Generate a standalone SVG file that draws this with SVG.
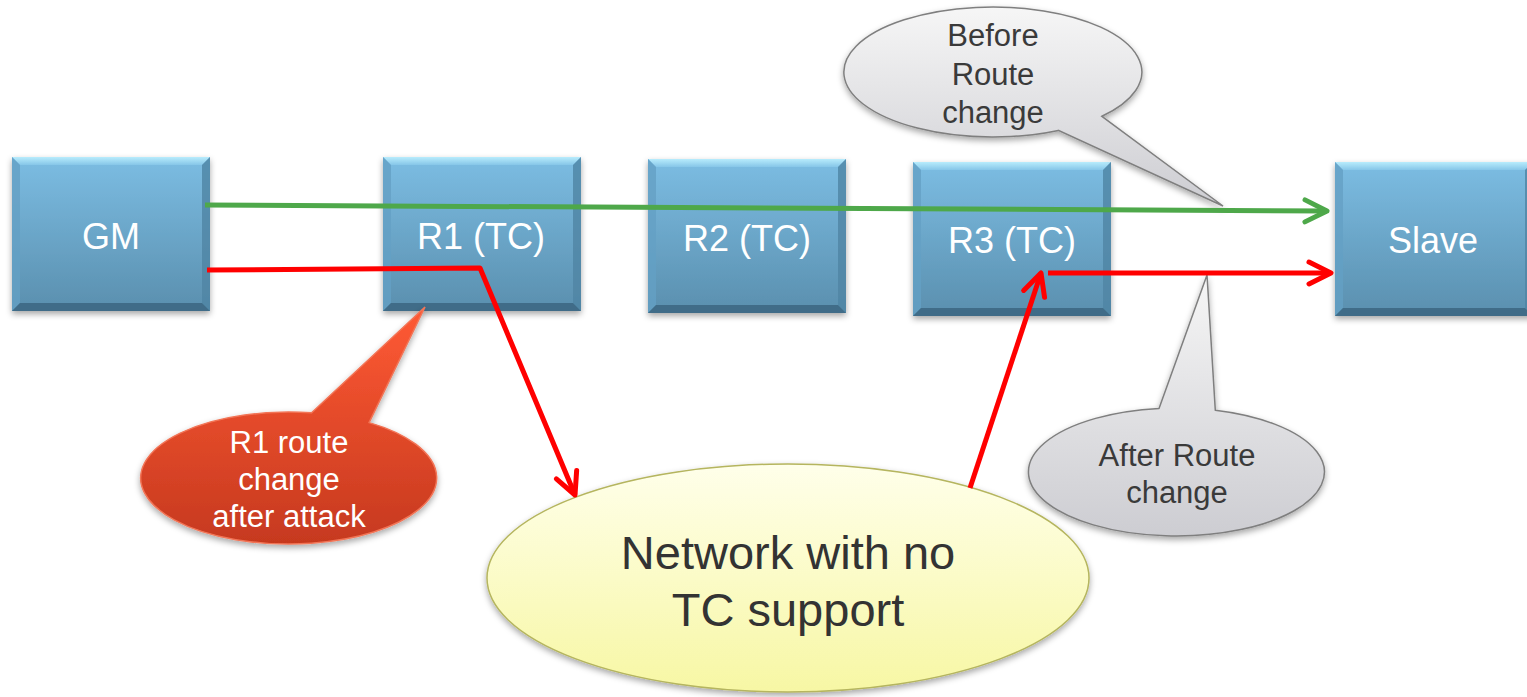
<svg xmlns="http://www.w3.org/2000/svg" xmlns:xlink="http://www.w3.org/1999/xlink" width="1527" height="697" viewBox="0 0 1527 697">
<style>
.box-text{font-family:"Liberation Sans",Arial,sans-serif;font-size:36px;fill:#ffffff;text-anchor:middle}
.callout-text{font-family:"Liberation Sans",Arial,sans-serif;font-size:31px;fill:#3a3a3a;text-anchor:middle}
.red-text{font-family:"Liberation Sans",Arial,sans-serif;font-size:31px;fill:#ffffff;text-anchor:middle}
.net-text{font-family:"Liberation Sans",Arial,sans-serif;font-size:47px;fill:#333333;text-anchor:middle}
.green{fill:none;stroke:#4ea84a;stroke-width:5;stroke-linejoin:round}
.red{fill:none;stroke:#ff0000;stroke-width:5;stroke-linejoin:round}
</style>
<defs>
<linearGradient id="gBox" x1="0" y1="0" x2="0" y2="1">
<stop offset="0" stop-color="#7cbde3"/><stop offset="1" stop-color="#5a8fae"/>
</linearGradient>
<linearGradient id="gTop" x1="0" y1="0" x2="0" y2="1">
<stop offset="0" stop-color="#b8ecfc"/><stop offset="1" stop-color="#86c6e8"/>
</linearGradient>
<linearGradient id="gGrey" x1="0" y1="0" x2="0" y2="1">
<stop offset="0" stop-color="#f6f6f6"/><stop offset="1" stop-color="#cdcdd2"/>
</linearGradient>
<linearGradient id="gRed" x1="0" y1="0" x2="0" y2="1">
<stop offset="0" stop-color="#ff5a34"/><stop offset="1" stop-color="#c6391f"/>
</linearGradient>
<linearGradient id="gYellow" x1="0" y1="0" x2="0" y2="1">
<stop offset="0" stop-color="#ffffea"/><stop offset="1" stop-color="#f7f7a4"/>
</linearGradient>
<filter id="shadow" x="-10%" y="-10%" width="120%" height="130%">
<feDropShadow dx="0" dy="3" stdDeviation="3" flood-color="#000" flood-opacity="0.35"/>
</filter>
<g id="box">
<rect x="0" y="0" width="198" height="154" fill="url(#gBox)"/>
<polygon points="0,0 198,0 190,8 8,8" fill="url(#gTop)"/>
<polygon points="0,0 8,8 8,146 0,154" fill="#64a0c4" opacity="0.8"/>
<polygon points="198,0 198,154 190,146 190,8" fill="#4f84a4" opacity="0.8"/>
<polygon points="0,154 8,146 190,146 198,154" fill="#3f6c88"/>
</g>
<marker id="ah-green" viewBox="-27 -15 31 30" refX="0" refY="0" markerWidth="31" markerHeight="30" markerUnits="userSpaceOnUse" orient="auto">
<path d="M-22,-11 L0,0 L-22,11" fill="none" stroke="#4ea84a" stroke-width="5" stroke-linecap="round" stroke-linejoin="round"/>
</marker>
<marker id="ah-red" viewBox="-27 -15 31 30" refX="0" refY="0" markerWidth="31" markerHeight="30" markerUnits="userSpaceOnUse" orient="auto">
<path d="M-22,-11 L0,0 L-22,11" fill="none" stroke="#ff0000" stroke-width="5" stroke-linecap="round" stroke-linejoin="round"/>
</marker>
</defs>

<g id="node-gm">
<use xlink:href="#box" href="#box" x="12" y="157" filter="url(#shadow)"/>
<text class="box-text" x="111" y="249">GM</text>
</g>
<g id="node-r1">
<use xlink:href="#box" href="#box" x="383" y="157" filter="url(#shadow)"/>
<text class="box-text" x="481" y="249">R1 (TC)</text>
</g>
<g id="node-r2">
<use xlink:href="#box" href="#box" x="648" y="159" filter="url(#shadow)"/>
<text class="box-text" x="747" y="251">R2 (TC)</text>
</g>
<g id="node-r3">
<use xlink:href="#box" href="#box" x="913" y="162" filter="url(#shadow)"/>
<text class="box-text" x="1012" y="253">R3 (TC)</text>
</g>
<g id="node-slave">
<use xlink:href="#box" href="#box" x="1335" y="162" filter="url(#shadow)"/>
<text class="box-text" x="1433" y="253">Slave</text>
</g>

<g id="node-network">
<ellipse cx="788" cy="578" rx="301" ry="114" fill="url(#gYellow)" stroke="#b5b55e" stroke-width="1.5" filter="url(#shadow)"/>
<text class="net-text" x="788" y="569">Network with no</text>
<text class="net-text" x="788" y="626">TC support</text>
</g>

<g id="node-before">
<path d="M1101.9,116.3 L1223,206 L1058.3,130.4 A149 65 0 1 1 1101.9,116.3 Z" fill="url(#gGrey)" stroke="#7f7f7f" stroke-width="1.5" filter="url(#shadow)"/>
<text class="callout-text" x="993" y="46">Before</text>
<text class="callout-text" x="993" y="85">Route</text>
<text class="callout-text" x="993" y="123">change</text>
</g>

<g id="node-after">
<path d="M1159,408.4 L1207,275 L1215.3,410.2 A148 64 0 1 1 1159,408.4 Z" fill="url(#gGrey)" stroke="#7f7f7f" stroke-width="1.5" filter="url(#shadow)"/>
<text class="callout-text" x="1177" y="466">After Route</text>
<text class="callout-text" x="1177" y="503">change</text>
</g>

<g id="node-r1-callout">
<path d="M311.6,412.8 L425,307 L369.1,422.6 A148 66 0 1 1 311.6,412.8 Z" fill="url(#gRed)" stroke="#f27456" stroke-width="1.5" filter="url(#shadow)"/>
<text class="red-text" x="289" y="453">R1 route</text>
<text class="red-text" x="289" y="490">change</text>
<text class="red-text" x="289" y="527">after attack</text>
</g>

<g id="connectors">
<path class="green" d="M205,205 L1327,211" marker-end="url(#ah-green)"/>
<path class="red" d="M207,270 L480,268 L575,495" marker-end="url(#ah-red)"/>
<path class="red" d="M970,488 L1041,273" marker-end="url(#ah-red)"/>
<path class="red" d="M1048,273 L1331,273" marker-end="url(#ah-red)"/>
</g>
</svg>
